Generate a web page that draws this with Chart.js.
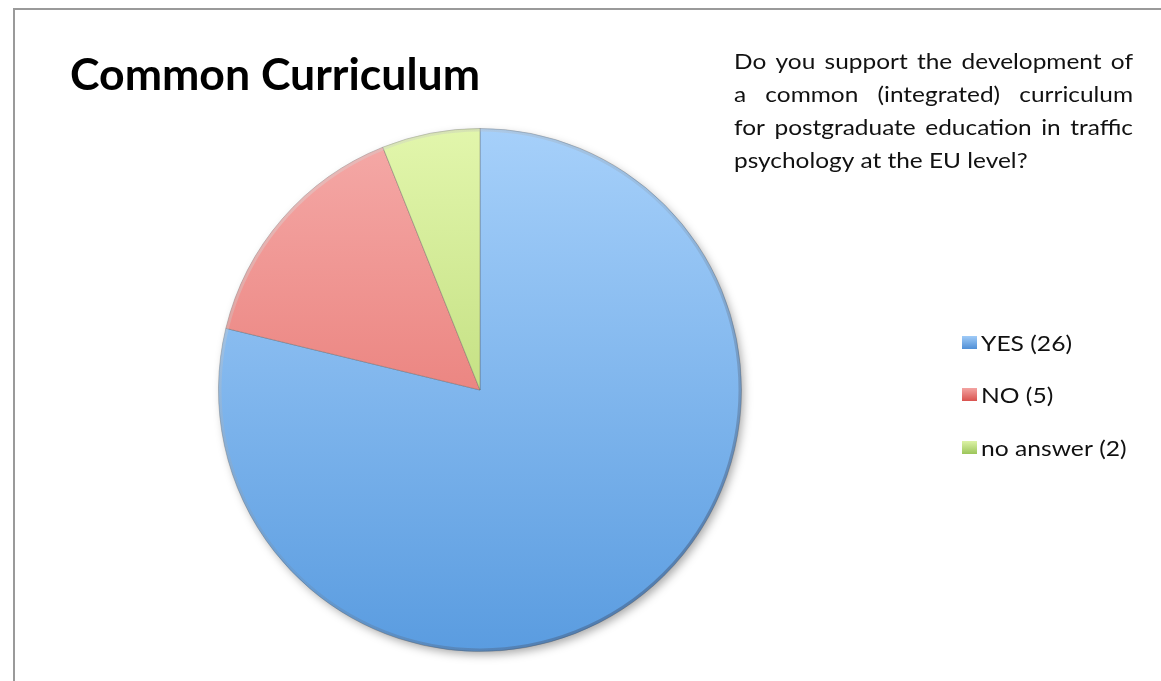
<!DOCTYPE html>
<html>
<head>
<meta charset="utf-8">
<script src="https://cdn.jsdelivr.net/npm/chart.js@4"></script>
<style>
html,body{margin:0;padding:0;background:#fff;}
#wrap{position:absolute;left:0;top:0;width:1161px;height:681px;}
</style>
</head>
<body>
<div id="wrap"><canvas id="c" width="1161" height="681"></canvas></div>
<script>
const title = "Common Curriculum";
const questionLines = [
  "Do you support the development of",
  "a common (integrated) curriculum",
  "for postgraduate education in traffic",
  "psychology at the EU level?"
];
const categories = ["YES (26)", "NO (5)", "no answer (2)"];
const values = [26, 5, 2];
const topColors = ["#a6d0fa", "#f5aaa8", "#e2f6ac"];
const bottomColors = ["#5a9ce0", "#e2625c", "#a9cc5e"];
const legendColors = ["#4f8fd6", "#d9534f", "#9cc55a"];

const FONT = "Lato, 'Open Sans', sans-serif";

function grad(ctx, i) {
  const chart = ctx.chart;
  const a = chart.chartArea;
  if (!a) return topColors[i];
  const g = chart.ctx.createLinearGradient(0, a.top, 0, a.bottom);
  g.addColorStop(0, topColors[i]);
  g.addColorStop(1, bottomColors[i]);
  return g;
}

function drawStretched(c, text, x, y, sx) {
  c.save();
  c.translate(x, y);
  c.scale(sx, 1);
  c.fillText(text, 0, 0);
  c.restore();
}

const decor = {
  id: 'decor',
  beforeDraw(chart) {
    const c = chart.ctx;
    c.save();
    c.fillStyle = '#fff';
    c.fillRect(0, 0, chart.width, chart.height);
    c.strokeStyle = '#9a9a9a';
    c.lineWidth = 2;
    c.beginPath();
    c.moveTo(14, 681);
    c.lineTo(14, 9);
    c.lineTo(1161, 9);
    c.stroke();
    c.restore();
  },
  beforeDatasetsDraw(chart) {
    const c = chart.ctx;
    c.save();
    c.shadowColor = 'rgba(0,0,0,0.35)';
    c.shadowBlur = 10;
    c.shadowOffsetX = 3;
    c.shadowOffsetY = 4;
    const arc = chart.getDatasetMeta(0).data[0];
    if (arc) {
      c.fillStyle = '#fff';
      c.beginPath();
      c.arc(arc.x, arc.y, arc.outerRadius - 1, 0, Math.PI * 2);
      c.fill();
    }
    c.restore();
  },
  afterDatasetsDraw(chart) {
    // subtle bevel: darker rim at bottom-right, lighter at top-left
    const c = chart.ctx;
    const arc = chart.getDatasetMeta(0).data[0];
    if (!arc) return;
    c.save();
    const r = arc.outerRadius;
    const g = c.createLinearGradient(arc.x - r, arc.y - r, arc.x + r, arc.y + r);
    g.addColorStop(0, 'rgba(255,255,255,0.5)');
    g.addColorStop(0.5, 'rgba(120,120,120,0.15)');
    g.addColorStop(1, 'rgba(30,50,90,0.5)');
    c.strokeStyle = g;
    c.lineWidth = 3;
    c.beginPath();
    c.arc(arc.x, arc.y, r - 1.5, 0, Math.PI * 2);
    c.stroke();
    c.restore();
  },
  afterDraw(chart) {
    const c = chart.ctx;
    c.save();
    c.fillStyle = '#000';
    c.textBaseline = 'alphabetic';
    c.font = "bold 44px " + FONT;
    const tw = c.measureText(title).width;
    drawStretched(c, title, 70, 90, 410 / tw);

    c.font = "22px " + FONT;
    c.fillStyle = '#111';
    const sx = 1.11;
    const left = 734, right = 1133;
    questionLines.forEach((line, i) => {
      const y = 69 + i * 33;
      if (i === questionLines.length - 1) {
        drawStretched(c, line, left, y, sx);
        return;
      }
      const words = line.split(' ');
      let total = 0;
      words.forEach(w => total += c.measureText(w).width * sx);
      const gap = (right - left - total) / (words.length - 1);
      let x = left;
      words.forEach(w => { drawStretched(c, w, x, y, sx); x += c.measureText(w).width * sx + gap; });
    });

    const lx = 962, ly = [342, 394, 447];
    categories.forEach((lab, i) => {
      const y = ly[i];
      const g = c.createLinearGradient(0, y - 7, 0, y + 7);
      g.addColorStop(0, topColors[i]);
      g.addColorStop(1, legendColors[i]);
      c.fillStyle = g;
      c.fillRect(lx, y - 6, 15, 13);
      c.fillStyle = '#111';
      c.font = "22px " + FONT;
      c.textBaseline = 'alphabetic';
      drawStretched(c, lab, lx + 19, y + 9, 1.12);
    });
    c.restore();
  }
};

new Chart(document.getElementById('c'), {
  type: 'pie',
  data: {
    labels: categories,
    datasets: [{
      data: values,
      backgroundColor: (ctx) => grad(ctx, ctx.dataIndex),
      borderColor: 'rgba(90,90,90,0.35)',
      borderWidth: 1
    }]
  },
  options: {
    responsive: false,
    animation: false,
    devicePixelRatio: 1,
    layout: { padding: { left: 218, right: 419, top: 128, bottom: 29 } },
    plugins: {
      legend: { display: false },
      tooltip: { enabled: false },
      title: { display: false }
    }
  },
  plugins: [decor]
});
</script>
</body>
</html>
